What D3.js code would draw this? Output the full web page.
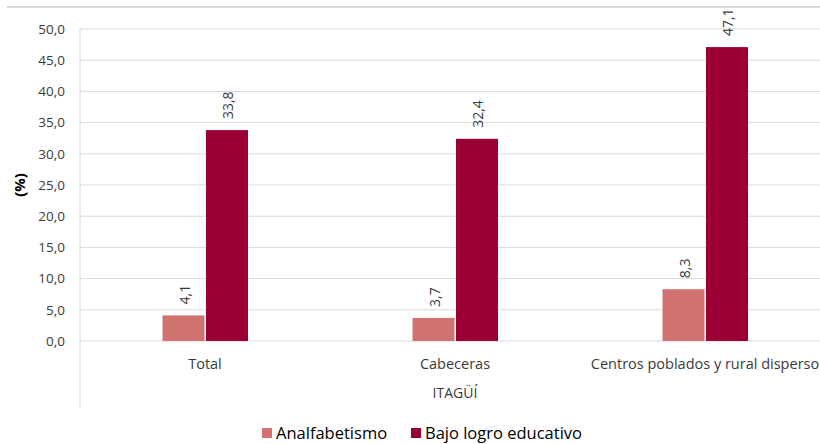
<!DOCTYPE html>
<html><head><meta charset="utf-8">
<script src="https://cdn.jsdelivr.net/npm/d3@7"></script>
<style>body{margin:0;background:#fff}svg{display:block}text{font-family:"Open Sans",sans-serif;fill:#3a3a3a}</style>
</head><body><svg id="c" width="820" height="444"></svg>
<script>
const categories = ["Total", "Cabeceras", "Centros poblados y rural disperso"];
const seriesNames = ["Analfabetismo", "Bajo logro educativo"];
const analfabetismo = [4.1, 3.7, 8.3];
const bajoLogro = [33.8, 32.4, 47.1];
const yTicks = [0, 5, 10, 15, 20, 25, 30, 35, 40, 45, 50];
const groupLabel = "ITAGÜÍ";
const colors = ["#cf7270", "#9b0034"];

const svg = d3.select("#c");
const mL = 80, mR = 830, mT = 29, mB = 341;
const fmt = v => d3.format(".1f")(v).replace(".", ",");

svg.append("line").attr("x1", 7).attr("x2", 820).attr("y1", 7).attr("y2", 7)
  .attr("stroke", "#d9d9d9").attr("stroke-width", 2);

const y = d3.scaleLinear().domain([0, 50]).range([mB, mT]);
const x0 = d3.scaleBand().domain(categories).range([mL, mR]);
const x1 = d3.scaleBand().domain(seriesNames).range([0, 85]);

const g = svg.append("g");
g.selectAll("line.grid").data(yTicks).join("line")
  .attr("x1", mL).attr("x2", 820).attr("y1", d => y(d)).attr("y2", d => y(d))
  .attr("stroke", "#d9d9d9").attr("stroke-width", 1);

const yAxis = d3.axisLeft(y).tickValues(yTicks).tickFormat(fmt).tickSize(0).tickPadding(15);
const ya = svg.append("g").attr("transform", `translate(${mL},0)`).call(yAxis);
ya.select(".domain").remove();
ya.selectAll("text").style("font-size", "13.5px").attr("fill", "#3a3a3a").style("font-family", "'Open Sans',sans-serif");

svg.append("line").attr("x1", mL).attr("x2", mL).attr("y1", mT).attr("y2", 407)
  .attr("stroke", "#d9d9d9").attr("stroke-width", 1);

const rows = categories.map((c, i) => ({ c, vals: [analfabetismo[i], bajoLogro[i]] }));
const grp = svg.selectAll("g.cat").data(rows).join("g").attr("class", "cat")
  .attr("transform", d => `translate(${x0(d.c) + x0.bandwidth() / 2 - 42.5},0)`);
grp.selectAll("rect").data(d => d.vals.map((v, j) => ({ v, s: seriesNames[j], j }))).join("rect")
  .attr("x", d => x1(d.s) + (d.j ? 1 : 0)).attr("width", 42)
  .attr("y", d => y(d.v)).attr("height", d => y(0) - y(d.v))
  .attr("fill", d => colors[d.j]);
grp.selectAll("text").data(d => d.vals.map((v, j) => ({ v, s: seriesNames[j], j }))).join("text")
  .attr("transform", d => `translate(${x1(d.s) + (d.j ? 1 : 0) + 21 + 6},${y(d.v) - 11}) rotate(-90)`)
  .attr("text-anchor", "start").style("font-size", "14px")
  .text(d => fmt(d.v));

svg.selectAll("text.catl").data(categories).join("text").attr("class", "catl")
  .attr("x", d => x0(d) + x0.bandwidth() / 2).attr("y", 369)
  .attr("text-anchor", "middle").style("font-size", "14.5px").text(d => d);

svg.append("text").attr("x", 455).attr("y", 398).attr("text-anchor", "middle")
  .style("font-size", "14px").text(groupLabel);

svg.append("text").attr("transform", "translate(25,185) rotate(-90)").attr("text-anchor", "middle")
  .style("font-size", "15px").style("font-weight", "bold").style("fill", "#000").text("(%)");

const legX = [262, 411];
const lg = svg.selectAll("g.leg").data(seriesNames).join("g").attr("class", "leg")
  .attr("transform", (d, i) => `translate(${legX[i]},0)`);
lg.append("rect").attr("x", 0).attr("y", 428).attr("width", 10).attr("height", 10).attr("fill", (d, i) => colors[i]);
lg.append("text").attr("x", 14).attr("y", 439).style("font-size", "16.5px").style("fill", "#000").text(d => d);
</script></body></html>
